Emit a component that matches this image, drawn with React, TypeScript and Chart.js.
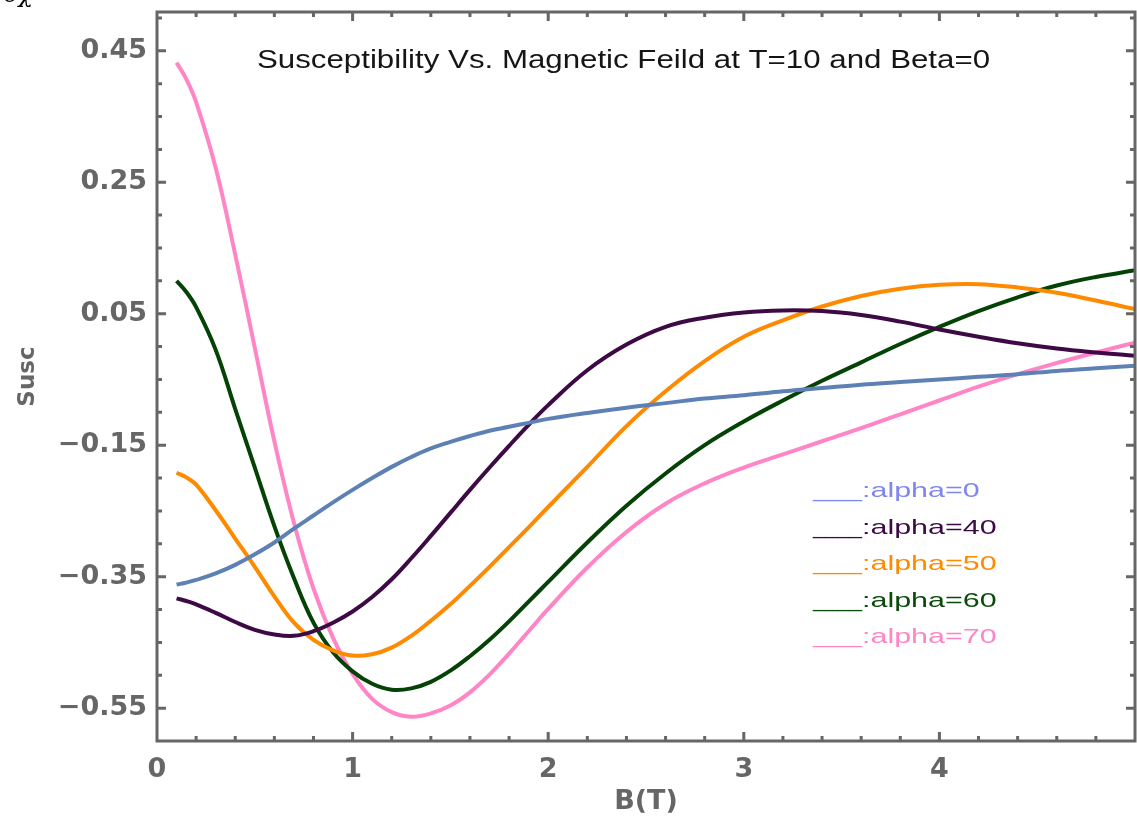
import React, { useEffect, useRef } from "react";
import { Chart, registerables } from "chart.js";

Chart.register(...registerables);

// Magnetic field B (T)
const fieldB = [
  0.1, 0.15, 0.2, 0.3, 0.4, 0.5, 0.6, 0.7, 0.8, 0.9, 1.0,
  1.1, 1.2, 1.3, 1.4, 1.5, 1.6, 1.7, 1.8, 1.9, 2.0,
  2.2, 2.4, 2.6, 2.8, 3.0, 3.2, 3.4, 3.6, 3.8, 4.0,
  4.2, 4.4, 4.6, 4.8, 5.0,
];

// Susceptibility for each alpha
const suscAlpha0 = [
  -0.362, -0.359, -0.355, -0.345, -0.332, -0.316, -0.298, -0.277, -0.257, -0.237, -0.218,
  -0.2, -0.183, -0.168, -0.155, -0.145, -0.136, -0.128, -0.122, -0.116, -0.11,
  -0.101, -0.093, -0.086, -0.079, -0.074, -0.068, -0.063, -0.058, -0.054, -0.05,
  -0.046, -0.042, -0.037, -0.033, -0.029,
];
const suscAlpha40 = [
  -0.383, -0.387, -0.392, -0.405, -0.419, -0.431, -0.438, -0.44, -0.433, -0.42, -0.403,
  -0.381, -0.354, -0.322, -0.288, -0.253, -0.218, -0.184, -0.151, -0.119, -0.089,
  -0.036, 0.003, 0.03, 0.044, 0.052, 0.055, 0.054, 0.048, 0.038, 0.026,
  0.015, 0.005, -0.003, -0.009, -0.014,
];
const suscAlpha50 = [
  -0.192, -0.199, -0.21, -0.249, -0.292, -0.335, -0.38, -0.42, -0.446, -0.462, -0.47,
  -0.468, -0.458, -0.44, -0.417, -0.392, -0.364, -0.335, -0.305, -0.275, -0.244,
  -0.183, -0.121, -0.068, -0.022, 0.015, 0.04, 0.061, 0.077, 0.088, 0.094,
  0.095, 0.09, 0.082, 0.07, 0.057,
];
const suscAlpha60 = [
  0.1, 0.083, 0.06, -0.005, -0.095, -0.184, -0.273, -0.352, -0.42, -0.465, -0.494,
  -0.513, -0.522, -0.52, -0.51, -0.493, -0.471, -0.446, -0.418, -0.388, -0.358,
  -0.298, -0.242, -0.193, -0.15, -0.114, -0.082, -0.052, -0.024, 0.004, 0.03,
  0.054, 0.075, 0.093, 0.106, 0.116,
];
const suscAlpha70 = [
  0.432, 0.407, 0.372, 0.272, 0.14, -0.002, -0.144, -0.268, -0.368, -0.443, -0.498,
  -0.536, -0.556, -0.563, -0.558, -0.546, -0.526, -0.499, -0.467, -0.433, -0.399,
  -0.336, -0.282, -0.239, -0.208, -0.184, -0.164, -0.144, -0.124, -0.103, -0.082,
  -0.061, -0.042, -0.025, -0.009, 0.006,
];

const seriesValues = [suscAlpha0, suscAlpha40, suscAlpha50, suscAlpha60, suscAlpha70];
const seriesNames = ["alpha=0", "alpha=40", "alpha=50", "alpha=60", "alpha=70"];
const lineColors = ["#5e81b5", "#3d0a45", "#ff8a00", "#054205", "#ff85c6"];
const legendColors = ["#7e86f2", "#3d0a45", "#ff8a00", "#0a4a0a", "#ff85c6"];

const yTickValues = [-0.55, -0.35, -0.15, 0.05, 0.25, 0.45];
const xTickValues = [0, 1, 2, 3, 4];
const chartTitle = "Susceptibility Vs. Magnetic Feild at T=10 and Beta=0";
const xAxisTitle = "B(T)";
const yAxisTitle = "Susc";

const AXIS_GRAY = "#666666";

export default function App() {
  const canvasRef = useRef<HTMLCanvasElement | null>(null);

  useEffect(() => {
    const canvas = canvasRef.current;
    if (!canvas) return;

    const datasets = seriesValues.map((vals, i) => ({
      label: seriesNames[i],
      data: fieldB.map((b, j) => ({ x: b, y: vals[j] })),
      borderColor: lineColors[i],
      backgroundColor: lineColors[i],
      borderWidth: 4,
      pointRadius: 0,
      fill: false,
      tension: 0.4,
    }));

    const decor = {
      id: "decor",
      afterDatasetsDraw(chart: any) {
        const { ctx, chartArea: ca, scales } = chart;
        const xs = scales.x;
        const ys = scales.y;
        ctx.save();
        // frame
        ctx.strokeStyle = AXIS_GRAY;
        ctx.lineWidth = 3;
        ctx.strokeRect(ca.left, ca.top, ca.right - ca.left, ca.bottom - ca.top);
        // y ticks (inward, both sides)
        for (let k = 0; k <= 21; k++) {
          const v = -0.55 + k * 0.05;
          if (v > ys.max) break;
          const y = ys.getPixelForValue(v);
          const len = k % 4 === 0 ? 9 : 5;
          ctx.beginPath();
          ctx.moveTo(ca.left, y);
          ctx.lineTo(ca.left + len, y);
          ctx.moveTo(ca.right, y);
          ctx.lineTo(ca.right - len, y);
          ctx.stroke();
        }
        // x ticks (inward, top and bottom)
        for (let k = 1; k <= 24; k++) {
          const v = k * 0.2;
          const x = xs.getPixelForValue(v);
          const len = k % 5 === 0 ? 9 : 5;
          ctx.beginPath();
          ctx.moveTo(x, ca.bottom);
          ctx.lineTo(x, ca.bottom - len);
          ctx.moveTo(x, ca.top);
          ctx.lineTo(x, ca.top + len);
          ctx.stroke();
        }
        // title inside plot
        ctx.fillStyle = "#151515";
        ctx.font = '25px "Liberation Sans"';
        ctx.textAlign = "left";
        ctx.textBaseline = "alphabetic";
        ctx.save();
        ctx.translate(257, 68);
        ctx.scale(1.25, 1);
        ctx.fillText(chartTitle, 0, 0);
        ctx.restore();
        // legend inside plot
        seriesNames.forEach((name, i) => {
          const base = 497 + i * 36.6;
          ctx.fillStyle = legendColors[i];
          ctx.font = '21px "Liberation Sans"';
          ctx.save();
          ctx.translate(813, base);
          ctx.scale(1.05, 1);
          ctx.fillText("____", 0, 0);
          ctx.restore();
          ctx.save();
          ctx.translate(862, base);
          ctx.scale(1.45, 1);
          ctx.fillText(":" + name, 0, 0);
          ctx.restore();
        });
        // clipped label fragment at the top-left corner
        ctx.fillStyle = "#000";
        ctx.font = 'italic 24px "DejaVu Serif"';
        ctx.fillText("\u03b4\u03c7", 4, 2);
        ctx.restore();
      },
    };

    const tickFont = { family: "DejaVu Sans", size: 27, weight: "bold" as const };

    const chart = new Chart(canvas, {
      type: "line",
      data: { datasets },
      options: {
        animation: false,
        responsive: false,
        maintainAspectRatio: false,
        layout: { padding: { top: 12, right: 2, left: 0, bottom: 0 } },
        plugins: {
          legend: { display: false },
          tooltip: { enabled: false },
          title: { display: false },
        },
        scales: {
          x: {
            type: "linear",
            min: 0,
            max: 5,
            grid: { display: false, drawTicks: false },
            border: { display: false },
            afterBuildTicks: (s: any) => {
              s.ticks = xTickValues.map((v) => ({ value: v }));
            },
            afterFit: (s: any) => {
              s.height = 80;
              s.paddingLeft = 0;
              s.paddingRight = 0;
            },
            ticks: {
              color: AXIS_GRAY,
              font: tickFont,
              padding: 13,
              maxRotation: 0,
              autoSkip: false,
              callback: (v: any) => String(v),
            },
            title: {
              display: true,
              text: xAxisTitle,
              color: AXIS_GRAY,
              font: { family: "DejaVu Sans", size: 27, weight: "bold" },
              padding: { top: 0, bottom: 3 },
            },
          },
          y: {
            type: "linear",
            min: -0.6,
            max: 0.509,
            grid: { display: false, drawTicks: false },
            border: { display: false },
            afterBuildTicks: (s: any) => {
              s.ticks = yTickValues.map((v) => ({ value: v }));
            },
            afterFit: (s: any) => {
              s.width = 157;
              s.paddingTop = 0;
              s.paddingBottom = 0;
            },
            ticks: {
              color: AXIS_GRAY,
              font: tickFont,
              padding: 10,
              autoSkip: false,
              callback: (v: any) => {
                const n = Number(v);
                return n < 0 ? "\u2212" + Math.abs(n).toFixed(2) : n.toFixed(2);
              },
            },
            title: {
              display: true,
              text: yAxisTitle,
              color: AXIS_GRAY,
              font: { family: "DejaVu Sans", size: 23, weight: "bold" },
              padding: { top: 14, bottom: 0 },
            },
          },
        },
      },
      plugins: [decor],
    });

    return () => chart.destroy();
  }, []);

  return (
    <div
      style={{
        position: "absolute",
        left: 0,
        top: 0,
        width: 1137,
        height: 821,
        background: "#ffffff",
      }}
    >
      <canvas ref={canvasRef} width={1137} height={821} style={{ display: "block" }} />
    </div>
  );
}
